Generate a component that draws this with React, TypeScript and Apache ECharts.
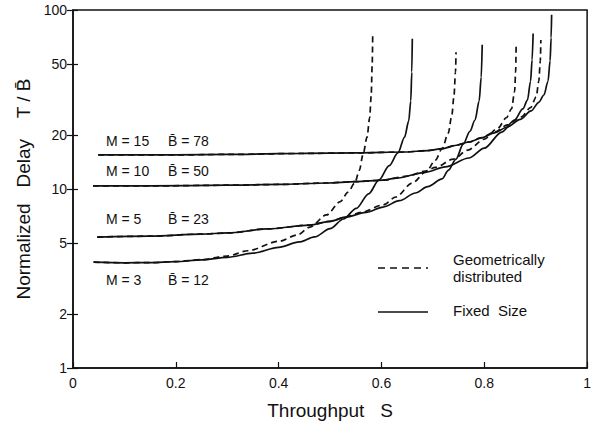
import React, { useEffect, useRef } from "react";
import * as echarts from "echarts";

const xTicks = [0, 0.2, 0.4, 0.6, 0.8, 1];
const yTicks = [1, 2, 5, 10, 20, 50, 100];

// Throughput S, normalized delay T/B
const m3Fixed = [
  [0.04, 3.9], [0.1, 3.87], [0.15, 3.88], [0.2, 3.93], [0.25, 4.02], [0.3, 4.15],
  [0.35, 4.38], [0.4, 4.72], [0.44, 5.06], [0.47, 5.4], [0.5, 6.0], [0.526, 6.8],
  [0.551, 7.8], [0.575, 9.4], [0.595, 11.2], [0.615, 13.5], [0.632, 15.9],
  [0.645, 19.5], [0.653, 24], [0.657, 31], [0.659, 45], [0.66, 69],
];
const m3Geom = [
  [0.04, 3.9], [0.1, 3.87], [0.15, 3.88], [0.2, 3.93], [0.25, 4.03], [0.3, 4.22],
  [0.34, 4.52], [0.4, 5.1], [0.436, 5.53], [0.461, 6.13], [0.493, 7.16], [0.52, 8.5],
  [0.535, 9.6], [0.548, 10.8], [0.557, 12.7], [0.564, 15.5], [0.572, 19.5],
  [0.577, 25], [0.58, 33], [0.582, 50], [0.583, 74],
];
const m5Fixed = [
  [0.047, 5.39], [0.15, 5.45], [0.25, 5.6], [0.3, 5.68], [0.378, 5.98], [0.461, 6.29],
  [0.5, 6.6], [0.532, 6.98], [0.57, 7.4], [0.603, 7.93], [0.635, 8.6], [0.666, 9.5],
  [0.69, 10.3], [0.718, 11.4], [0.73, 12.7], [0.745, 14.7], [0.759, 17.8],
  [0.772, 21], [0.782, 24.3], [0.79, 31], [0.794, 42], [0.796, 64],
];
const m5Geom = [
  [0.047, 5.39], [0.15, 5.45], [0.25, 5.6], [0.3, 5.68], [0.378, 5.98], [0.461, 6.29],
  [0.5, 6.6], [0.532, 7.0], [0.56, 7.4], [0.603, 8.14], [0.628, 9.02], [0.66, 10.8],
  [0.687, 12.5], [0.705, 14.5], [0.718, 16.8], [0.73, 20.5], [0.737, 26],
  [0.741, 33], [0.744, 45], [0.745, 58],
];
const m10Fixed = [
  [0.039, 10.4], [0.15, 10.4], [0.3, 10.5], [0.4, 10.6], [0.493, 10.8], [0.55, 11.0],
  [0.603, 11.2], [0.628, 11.5], [0.686, 12.4], [0.724, 13.3], [0.77, 14.9],
  [0.8, 16.9], [0.834, 20.8], [0.859, 24.3], [0.875, 28], [0.884, 31.4],
  [0.89, 40], [0.893, 52.6], [0.895, 74],
];
const m10Geom = [
  [0.039, 10.4], [0.15, 10.4], [0.3, 10.5], [0.4, 10.6], [0.493, 10.8], [0.55, 11.0],
  [0.603, 11.2], [0.65, 11.8], [0.686, 12.6], [0.705, 13.2], [0.74, 14.7],
  [0.768, 16.5], [0.8, 19.0], [0.826, 21.8], [0.843, 25], [0.853, 28],
  [0.859, 35], [0.861, 45], [0.862, 65],
];
const m15Fixed = [
  [0.049, 15.5], [0.2, 15.5], [0.3, 15.6], [0.45, 15.8], [0.55, 15.9], [0.647, 16.1],
  [0.69, 16.4], [0.718, 16.8], [0.743, 17.5], [0.77, 18.3], [0.795, 19.3],
  [0.82, 20.6], [0.845, 22.2], [0.87, 24.5], [0.891, 27.3], [0.906, 30.5],
  [0.916, 33.5], [0.924, 40], [0.928, 52], [0.93, 70], [0.931, 94],
];
const m15Geom = [
  [0.049, 15.5], [0.2, 15.5], [0.3, 15.6], [0.45, 15.8], [0.55, 15.9], [0.647, 16.1],
  [0.69, 16.4], [0.718, 16.8], [0.743, 17.5], [0.77, 18.3], [0.795, 19.4],
  [0.82, 20.8], [0.845, 22.8], [0.872, 25.3], [0.89, 28.5], [0.901, 32.7],
  [0.906, 40], [0.909, 52], [0.91, 68],
];

const curveLabels = [
  { m: "M = 15", b: "B\u0304 = 78" },
  { m: "M = 10", b: "B\u0304 = 50" },
  { m: "M = 5", b: "B\u0304 = 23" },
  { m: "M = 3", b: "B\u0304 = 12" },
];

const FONT = "Liberation Sans, Arial, Helvetica, sans-serif";
const INK = "#111";

function curve(name: string, data: number[][], dashed: boolean) {
  return {
    name,
    type: "line",
    data,
    symbol: "none",
    smooth: 0.3,
    smoothMonotone: "x",
    lineStyle: { color: INK, width: 1.7, type: dashed ? [6, 4] : "solid" },
    z: 3,
  };
}

export default function App() {
  const ref = useRef<HTMLDivElement>(null);
  useEffect(() => {
    document.body.style.margin = "0";
    const chart = echarts.init(ref.current!, null, { renderer: "svg" });
    const labelYs = [142, 172, 220, 281];
    const graphics: any[] = [];
    curveLabels.forEach((c, i) => {
      graphics.push({
        type: "text", left: 106, top: labelYs[i] - 8,
        style: { text: c.m, font: `14px ${FONT}`, fill: INK },
      });
      graphics.push({
        type: "text", left: 168, top: labelYs[i] - 8,
        style: { text: c.b, font: `14px ${FONT}`, fill: INK },
      });
    });
    graphics.push(
      { type: "line", shape: { x1: 378, y1: 268, x2: 428, y2: 268 }, style: { stroke: INK, lineWidth: 1.6, lineDash: [7, 5] } },
      { type: "text", left: 453, top: 252, style: { text: "Geometrically", font: `15px ${FONT}`, fill: INK } },
      { type: "text", left: 453, top: 269, style: { text: "distributed", font: `15px ${FONT}`, fill: INK } },
      { type: "line", shape: { x1: 378, y1: 312, x2: 428, y2: 312 }, style: { stroke: INK, lineWidth: 1.6 } },
      { type: "text", left: 453, top: 303, style: { text: "Fixed  Size", font: `15px ${FONT}`, fill: INK } }
    );
    chart.setOption({
      animation: false,
      grid: {
        left: 73, top: 10, width: 519, height: 358,
        show: true, borderColor: INK, borderWidth: 1.5, backgroundColor: "transparent",
      },
      xAxis: {
        type: "value", min: 0, max: 1, interval: 0.2,
        name: "Throughput   S", nameLocation: "middle", nameGap: 33,
        nameTextStyle: { fontFamily: FONT, fontSize: 19, color: INK },
        axisLine: { lineStyle: { color: INK, width: 1.5 } },
        axisTick: { inside: true, length: 6, lineStyle: { color: INK, width: 1.2 } },
        axisLabel: { color: INK, fontFamily: FONT, fontSize: 14, margin: 8,
          customValues: xTicks },
        splitLine: { show: false },
      },
      yAxis: [
        {
          type: "log", logBase: 10, min: 1, max: 100,
          name: "Normalized   Delay    T / B\u0304", nameLocation: "middle", nameGap: 38,
          nameTextStyle: { fontFamily: FONT, fontSize: 19, color: INK },
          axisLine: { lineStyle: { color: INK, width: 1.5 } },
          axisTick: { length: 6, customValues: yTicks, lineStyle: { color: INK, width: 1.2 } },
          axisLabel: { color: INK, fontFamily: FONT, fontSize: 14, margin: 6, customValues: yTicks },
          splitLine: { show: false },
        },
        {
          type: "log", logBase: 10, min: 1, max: 100, position: "left",
          axisLine: { show: false },
          axisTick: { inside: true, length: 5, customValues: yTicks, lineStyle: { color: INK, width: 1.2 } },
          axisLabel: { show: false },
          splitLine: { show: false },
        },
      ],
      series: [
        curve("M=3 fixed", m3Fixed, false),
        curve("M=3 geometric", m3Geom, true),
        curve("M=5 fixed", m5Fixed, false),
        curve("M=5 geometric", m5Geom, true),
        curve("M=10 fixed", m10Fixed, false),
        curve("M=10 geometric", m10Geom, true),
        curve("M=15 fixed", m15Fixed, false),
        curve("M=15 geometric", m15Geom, true),
      ],
      graphic: graphics,
    });
    return () => chart.dispose();
  }, []);
  return <div ref={ref} style={{ width: 594, height: 428 }} />;
}
